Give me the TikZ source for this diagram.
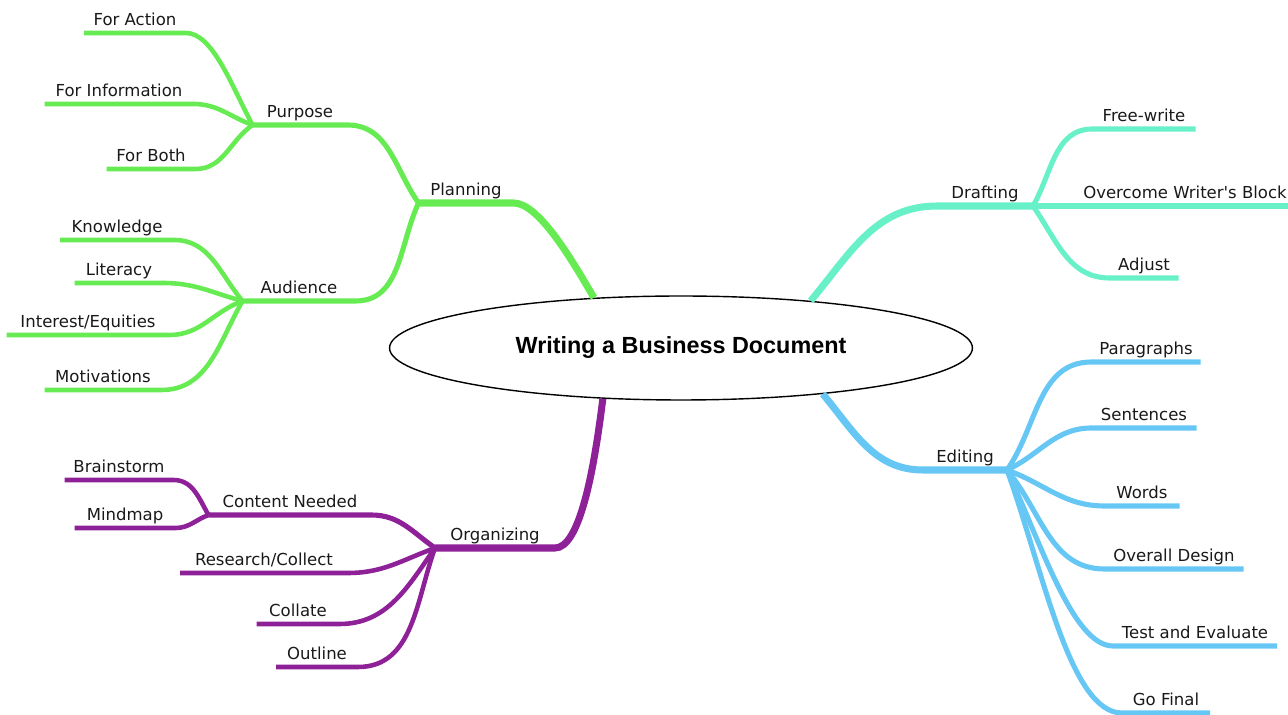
\documentclass[tikz,border=0pt]{standalone}
\usepackage{fontspec}
\setmainfont{DejaVu Sans}[Ligatures=TeXOff]
\newfontfamily\titlefont{Liberation Sans}
\usetikzlibrary{shapes.geometric}

\definecolor{planGreen}{RGB}{102,236,82}
\definecolor{draftTeal}{RGB}{104,240,200}
\definecolor{editBlue}{RGB}{102,198,244}
\definecolor{orgPurple}{RGB}{142,32,152}
\definecolor{inkGray}{RGB}{25,25,25}

\tikzset{
  topic/.style={ellipse, draw=black, line width=0.8pt, fill=white, inner sep=0pt,
    minimum width=11.66cm, minimum height=2.08cm,
    font=\titlefont\bfseries\fontsize{13.3}{15}\selectfont},
  lbl/.style={anchor=south, inner xsep=0pt, inner ysep=2pt, outer sep=0pt,
    text height=7pt, text depth=2.2pt, text=inkGray,
    font=\fontsize{9.4}{11}\selectfont},
  w/.style={minimum width=#1*0.02cm},
  trunk/.style={line width=4pt},
  branch/.style={line width=2.9pt},
  twig/.style={line width=2.6pt}
}

\begin{document}
\begin{tikzpicture}[x=0.02cm, y=-0.02cm]
    \useasboundingbox (0,0) rectangle (1288,715);
    \node[topic] (doc) at (681,348) {Writing a Business Document};

    % planning side
    \node[lbl, w=95] (planning) at (466,203) {Planning};
    \node[lbl, w=95] (purpose) at (300,125) {Purpose};
    \node[lbl, w=113] (audience) at (299,301) {Audience};
    \node[lbl, w=102] (action) at (135,33) {For Action};
    \node[lbl, w=149] (info) at (119,104) {For Information};
    \node[lbl, w=89] (both) at (151,169) {For Both};
    \node[lbl, w=114] (knowledge) at (117,240) {Knowledge};
    \node[lbl, w=89] (literacy) at (119,283) {Literacy};
    \node[lbl, w=163] (interest) at (88,335) {Interest/Equities};
    \node[lbl, w=117] (motiv) at (103,390) {Motivations};
    \begin{scope}[planGreen]
      \draw[trunk] (planning.south west) -- (planning.south east)
        to [out=0,in=120,out looseness=0.5] (doc.150);
      \draw[branch] (purpose.south west) -- (purpose.south east)
        to [out=0,in=125] (planning.south west);
      \draw[branch] (audience.south west) -- (audience.south east)
        to [out=0,in=245] (planning.south west);
      \draw[twig] (action.south west) -- (action.south east)
        to [out=0,in=118,out looseness=0.6] (purpose.south west);
      \draw[twig] (info.south west) -- (info.south east)
        to [out=0,in=160] (purpose.south west);
      \draw[twig] (both.south west) -- (both.south east)
        to [out=0,in=215] (purpose.south west);
      \draw[twig] (knowledge.south west) -- (knowledge.south east)
        to [out=0,in=130] (audience.south west);
      \draw[twig] (literacy.south west) -- (literacy.south east)
        to [out=0,in=165] (audience.south west);
      \draw[twig] (interest.south west) -- (interest.south east)
        to [out=0,in=200] (audience.south west);
      \draw[twig] (motiv.south west) -- (motiv.south east)
        to [out=0,in=240] (audience.south west);
    \end{scope}

    % organizing side
    \node[lbl, w=120] (organizing) at (495,548) {Organizing};
    \node[lbl, w=163] (content) at (290,515) {Content Needed};
    \node[lbl, w=109] (brainstorm) at (119,480) {Brainstorm};
    \node[lbl, w=101] (mindmap) at (125,528) {Mindmap};
    \node[lbl, w=168] (research) at (264,573) {Research/Collect};
    \node[lbl, w=83] (collate) at (298,624) {Collate};
    \node[lbl, w=82] (outline) at (317,667) {Outline};
    \begin{scope}[orgPurple]
      \draw[trunk] (doc.213)
        to [out=-97,in=0,out looseness=1.2,in looseness=0.4] (organizing.south east)
        -- (organizing.south west);
      \draw[branch] (content.south west) -- (content.south east)
        to [out=0,in=145] (organizing.south west);
      \draw[twig] (brainstorm.south west) -- (brainstorm.south east)
        to [out=0,in=120] (content.south west);
      \draw[twig] (mindmap.south west) -- (mindmap.south east)
        to [out=0,in=200] (content.south west);
      \draw[twig] (research.south west) -- (research.south east)
        to [out=0,in=200] (organizing.south west);
      \draw[twig] (collate.south west) -- (collate.south east)
        to [out=0,in=235] (organizing.south west);
      \draw[twig] (outline.south west) -- (outline.south east)
        to [out=0,in=250] (organizing.south west);
    \end{scope}

    % drafting side
    \node[lbl, w=96] (drafting) at (985,206) {Drafting};
    \node[lbl, w=103] (freewrite) at (1144,129) {Free-write};
    \node[lbl, w=230] (overcome) at (1185,206) {Overcome Writer's Block};
    \node[lbl, w=69] (adjust) at (1144,278) {Adjust};
    \begin{scope}[draftTeal]
      \draw[trunk] (doc.20) to [out=50,in=180] (drafting.south west)
        -- (drafting.south east);
      \draw[branch] (drafting.south east) to [out=60,in=180] (freewrite.south west)
        -- (freewrite.south east);
      \draw[branch] (drafting.south east) -- (overcome.south west)
        -- (overcome.south east);
      \draw[branch] (drafting.south east) to [out=-55,in=180] (adjust.south west)
        -- (adjust.south east);
    \end{scope}

    % editing side
    \node[lbl, w=84] (editing) at (965,470) {Editing};
    \node[lbl, w=109] (paragraphs) at (1146,362) {Paragraphs};
    \node[lbl, w=105] (sentences) at (1144,428) {Sentences};
    \node[lbl, w=75] (words) at (1142,506) {Words};
    \node[lbl, w=139] (design) at (1174,569) {Overall Design};
    \node[lbl, w=164] (evaluate) at (1195,646) {Test and Evaluate};
    \node[lbl, w=88] (gofinal) at (1166,713) {Go Final};
    \begin{scope}[editBlue]
      \draw[trunk] (doc.342) to [out=-50,in=180] (editing.south west)
        -- (editing.south east);
      \draw[branch] (editing.south east) to [out=55,in=180] (paragraphs.south west)
        -- (paragraphs.south east);
      \draw[branch] (editing.south east) to [out=25,in=180] (sentences.south west)
        -- (sentences.south east);
      \draw[branch] (editing.south east) to [out=-20,in=180] (words.south west)
        -- (words.south east);
      \draw[branch] (editing.south east) to [out=-50,in=180] (design.south west)
        -- (design.south east);
      \draw[branch] (editing.south east)
        to [out=-65,in=180,in looseness=0.5] (evaluate.south west)
        -- (evaluate.south east);
      \draw[branch] (editing.south east)
        to [out=-70,in=180,in looseness=0.5] (gofinal.south west)
        -- (gofinal.south east);
    \end{scope}
\end{tikzpicture}
\end{document}
